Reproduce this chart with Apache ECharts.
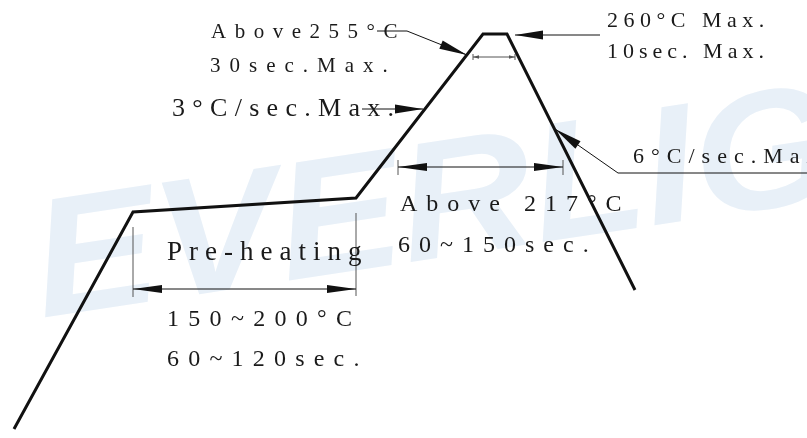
<!DOCTYPE html>
<html>
<head>
<meta charset="utf-8">
<script src="https://cdn.jsdelivr.net/npm/echarts@6/dist/echarts.min.js"></script>
<style>
    html, body { margin: 0; padding: 0; background: #fff; }
    #chart { width: 807px; height: 438px; }
</style>
</head>
<body>
<div id="chart"></div>
<script>
    // reflow profile, schematic units (x: time, y: height down)
    const profileX = [14, 133, 356, 483, 507, 635];
    const profileY = [429, 212, 198, 34, 34, 290];

    // dimension lines with arrows at both ends
    const dimFromX = [133, 398, 473];
    const dimToX = [356, 563, 515];
    const dimY = [289, 167, 57];

    // extension (witness) lines
    const extX = [133, 356, 398, 563, 473, 515];
    const extTop = [227, 213, 160, 160, 54, 54];
    const extBottom = [297, 296, 175, 175, 60, 60];

    // leader lines, arrow on last point
    const leaders = [
        [[377, 31], [407, 31], [467, 55]],
        [[600, 35], [515, 35]],
        [[362, 109], [423, 109]],
        [[807, 173], [618, 173], [555, 129]]
    ];

    // annotation texts
    const notes = ['Above255°C', '30sec.Max.', '3°C/sec.Max.', '260°C Max.', '10sec. Max.',
        '6°C/sec.Max.', 'Above 217°C', '60~150sec.', 'Pre-heating', '150~200°C', '60~120sec.'];

    function head(tip, from, len, half) {
        let dx = tip[0] - from[0], dy = tip[1] - from[1];
        let d = Math.sqrt(dx * dx + dy * dy);
        let ux = dx / d, uy = dy / d;
        let bx = tip[0] - ux * len, by = tip[1] - uy * len;
        return [tip, [bx - uy * half, by + ux * half], [bx + uy * half, by - ux * half]];
    }

    function label(str, x, base, size, gap) {
        return {
            type: 'text', x: x, y: base - size * 0.33, z: 10,
            style: {
                text: str.split('').map(c => '{c|' + c + '}').join(''),
                align: 'left', verticalAlign: 'middle',
                rich: {
                    c: {fontSize: size, fontFamily: 'Liberation Serif', fill: '#1a1a1a', padding: [0, gap, 0, 0]}
                }
            }
        };
    }

    let myChart = echarts.init(document.getElementById('chart'));
    myChart.setOption({
        animation: false,
        grid: {left: 0, right: 0, top: 0, bottom: 0},
        xAxis: {type: 'value', min: 0, max: 807, show: false},
        yAxis: {type: 'value', min: 0, max: 438, inverse: true, show: false},
        graphic: [
            {
                // watermark
                type: 'text', x: 35, y: 272, rotation: 0.15, scaleX: 1.1, z: -10, silent: true,
                style: {
                    text: 'EVERLIG', fontSize: 168, fontWeight: 'bold', fontStyle: 'italic',
                    fontFamily: 'Liberation Sans', fill: '#e8f0f8', align: 'left', verticalAlign: 'middle'
                }
            },
            label(notes[0], 211, 39, 21, 8.5),
            label(notes[1], 210, 73, 21, 9),
            label(notes[2], 172, 118, 26, 7.3),
            label(notes[3], 607, 28, 22, 5.5),
            label(notes[4], 607, 59, 22, 5),
            label(notes[5], 633, 164, 22, 7),
            label(notes[6], 400, 213, 24, 9),
            label(notes[7], 398, 254, 24, 9),
            label(notes[8], 167, 262, 27, 7),
            label(notes[9], 167, 328, 24, 9.3),
            label(notes[10], 167, 368, 24, 9.2)
        ],
        series: [
            {
                // witness lines
                type: 'custom',
                data: extX.map((x, i) => [x, extTop[i], extBottom[i]]),
                renderItem: function (params, api) {
                    let a = api.coord([api.value(0), api.value(1)]);
                    let b = api.coord([api.value(0), api.value(2)]);
                    return {
                        type: 'line',
                        shape: {x1: a[0], y1: a[1], x2: b[0], y2: b[1]},
                        style: {stroke: '#555', lineWidth: 1}
                    };
                },
                z: 3
            },
            {
                // dimension arrows
                type: 'custom',
                data: dimY.map((y, i) => [dimFromX[i], dimToX[i], y]),
                renderItem: function (params, api) {
                    let a = api.coord([api.value(0), api.value(2)]);
                    let b = api.coord([api.value(1), api.value(2)]);
                    let small = params.dataIndex === 2;
                    let len = small ? 6 : 29, half = small ? 1.8 : 4;
                    let col = small ? '#555' : '#111';
                    return {
                        type: 'group',
                        children: [
                            {type: 'line', shape: {x1: a[0], y1: a[1], x2: b[0], y2: b[1]}, style: {stroke: col, lineWidth: 1}},
                            {type: 'polygon', shape: {points: head(a, b, len, half)}, style: {fill: col}},
                            {type: 'polygon', shape: {points: head(b, a, len, half)}, style: {fill: col}}
                        ]
                    };
                },
                z: 3
            },
            {
                // leaders
                type: 'custom',
                data: leaders.map((l, i) => [i]),
                renderItem: function (params, api) {
                    let pts = leaders[params.dataIndex].map(p => api.coord(p));
                    let n = pts.length;
                    return {
                        type: 'group',
                        children: [
                            {type: 'polyline', shape: {points: pts}, style: {stroke: '#111', lineWidth: 1, fill: null}},
                            {type: 'polygon', shape: {points: head(pts[n - 1], pts[n - 2], 28, 4.5)}, style: {fill: '#111'}}
                        ]
                    };
                },
                z: 4
            },
            {
                type: 'line',
                data: profileX.map((x, i) => [x, profileY[i]]),
                symbol: 'none',
                lineStyle: {color: '#111', width: 3, join: 'miter'},
                z: 5
            }
        ]
    });
</script>
</body>
</html>
